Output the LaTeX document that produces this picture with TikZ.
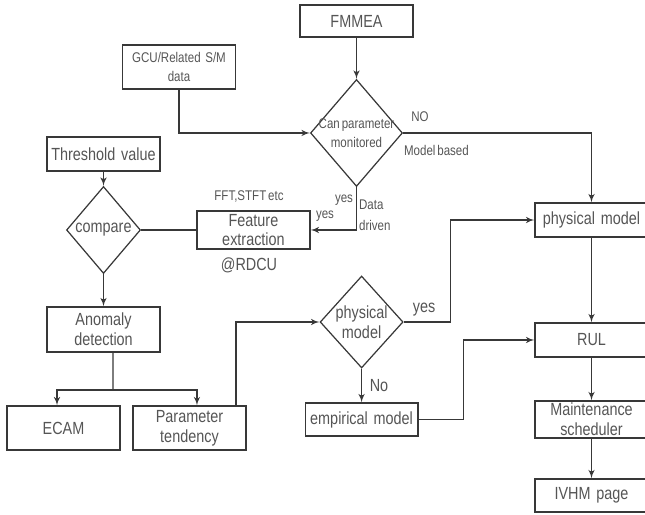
\documentclass[tikz,border=0pt]{standalone}
\usepackage{fontspec}
\setmainfont{Liberation Sans}[FakeStretch=0.82, WordSpace=0.6]
\usepackage{xcolor}
\usepackage{tikz}
\usetikzlibrary{shapes,arrows,positioning}
\definecolor{linegray}{HTML}{383838}
\definecolor{textgray}{HTML}{555555}

\begin{document}
\begin{tikzpicture}[x=0.02cm, y=-0.02cm, node distance=1.5cm, font=\fontsize{10}{11.3}\selectfont, text=textgray]
  \tikzstyle{block} = [rectangle, draw=linegray, line width=0.7pt, text width=2.1cm, text centered, minimum width=2.26cm, minimum height=0.68cm, inner sep=1pt]
  \tikzstyle{decision} = [diamond, draw=linegray, line width=0.7pt, inner sep=0pt]
  \tikzstyle{wire} = [draw=linegray, line width=0.7pt]
  \tikzstyle{line} = [wire, -latex']
  \tikzstyle{small} = [font=\fontsize{8}{11}\selectfont, inner sep=1pt]

  \useasboundingbox (0,0) rectangle (645,514);

  % left column
  \node [block, minimum height=0.64cm] (fmmea) at (356.5,21) {FMMEA};
  \node [block, font=\fontsize{8}{11}\selectfont, minimum height=0.88cm] (gcu) at (179,67) {GCU/Related S/M\\data};
  \node [decision, below of=fmmea, node distance=2.24cm, minimum width=1.84cm, minimum height=2.14cm,
         label={[small, align=center]center:Can parameter\\monitored}] (canmon) {};
  \node [block] (thresh) at (103.5,154) {Threshold value};
  \node [decision, below of=thresh, node distance=1.52cm, minimum width=1.48cm, minimum height=1.74cm,
         label={center:compare}] (compare) {};
  \node [block, right of=compare, node distance=3.0cm, minimum height=0.76cm] (feature) {Feature\\extraction};
  \node [block, below of=compare, node distance=1.99cm, minimum height=0.9cm] (anomaly) {Anomaly\\detection};
  \node [block, minimum height=0.88cm] (ecam) at (63.5,428) {ECAM};
  \node [block, right of=ecam, node distance=2.52cm, minimum height=0.88cm] (ptend) {Parameter\\tendency};

  % middle and right column
  \node [decision, minimum width=1.66cm, minimum height=1.84cm,
         label={[align=center]center:physical\\model}] (pdia) at (361.6,322) {};
  \node [block, below of=pdia, node distance=1.95cm, minimum height=0.66cm] (empir) {empirical model};
  \node [block] (physmod) at (591.5,220) {physical model};
  \node [block, below of=physmod, node distance=2.4cm] (rul) {RUL};
  \node [block, below of=rul, node distance=1.59cm, minimum height=0.74cm] (maint) {Maintenance\\scheduler};
  \node [block, below of=maint, node distance=1.52cm, minimum height=0.66cm] (ivhm) {IVHM page};

  % labels
  \node [small] (nolbl) at (420,117) {NO};
  \node [small, anchor=west] (modbased) at (402,150) {Model based};
  \node [small] (yesa) at (344,200) {yes};
  \node [small, anchor=west] (data) at (357,205) {Data};
  \node [small, anchor=west] (driven) at (357,225) {driven};
  \node [small] (yesb) at (325,216) {yes};
  \node [small] (fft) at (249,196) {FFT,STFT etc};
  \node (rdcu) at (249,265) {@RDCU};
  \node (yesc) at (424,310) {yes};
  \node (nob) at (379,386) {No};

  \coordinate (split) at (113,390);

  \path [line] (fmmea) -- (canmon);
  \path [line] (gcu) |- (canmon.west);
  \path [line] (canmon.east) -| (physmod.north);
  \path [line] (canmon.south) |- (feature.east);
  \path [wire] (compare.east) -- (feature.west);
  \path [line] (thresh) -- (compare);
  \path [line] (compare) -- (anomaly);
  \path [wire] ([xshift=0.19cm]anomaly.south) -- (split);
  \path [line] (split) -| ([xshift=-0.13cm]ecam.north);
  \path [line] (split) -| ([xshift=0.15cm]ptend.north);
  \path [line] ([xshift=0.93cm]ptend.north) |- (pdia.west);
  \path [line] (pdia.east) -- ++(47,0) |- (physmod.west);
  \path [line] (pdia) -- (empir);
  \path [line] (empir.east) -- ++(45,0) |- (rul.west);
  \path [line] (physmod) -- (rul);
  \path [line] (rul) -- (maint);
  \path [line] (maint) -- (ivhm);
\end{tikzpicture}
\end{document}
